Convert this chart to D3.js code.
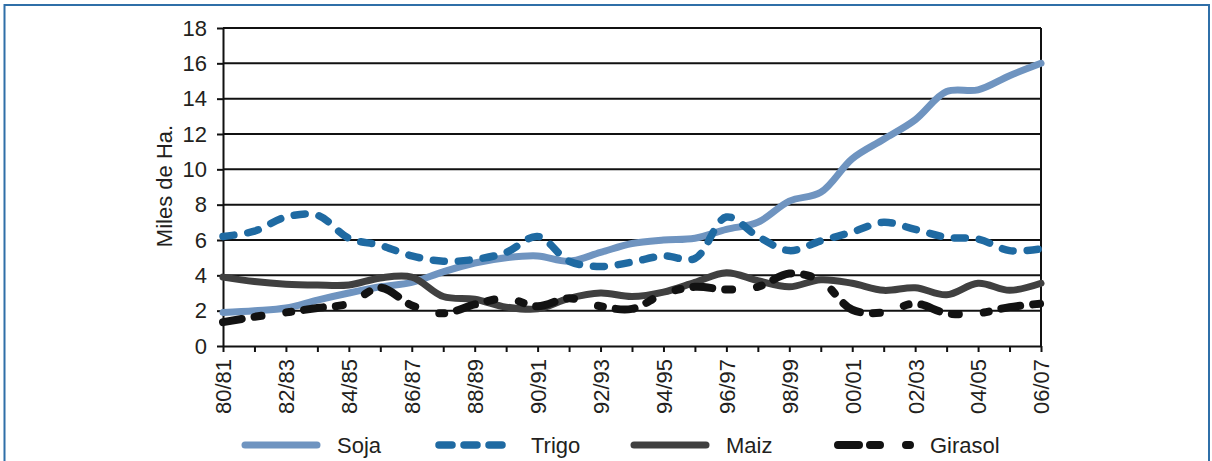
<!DOCTYPE html>
<html>
<head>
<meta charset="utf-8">
<script src="https://cdn.jsdelivr.net/npm/d3@7"></script>
<style>
  html, body { margin: 0; padding: 0; background: #ffffff; }
  svg { display: block; font-family: "Liberation Sans", Arial, sans-serif; }
</style>
</head>
<body>
<svg id="chart" width="1212" height="461"></svg>
<script>
// Campañas agrícolas (superficie sembrada, miles de ha)
const seasons = ["80/81","81/82","82/83","83/84","84/85","85/86","86/87","87/88","88/89","89/90",
  "90/91","91/92","92/93","93/94","94/95","95/96","96/97","97/98","98/99","99/00",
  "00/01","01/02","02/03","03/04","04/05","05/06","06/07"];

const soja    = [1.9, 2.0, 2.15, 2.6, 3.0, 3.35, 3.6, 4.2, 4.7, 5.0, 5.1, 4.8, 5.3, 5.8, 6.0, 6.1, 6.6, 7.0, 8.2, 8.7, 10.6, 11.7, 12.8, 14.4, 14.5, 15.3, 16.0];
const trigo   = [6.2, 6.5, 7.3, 7.4, 6.1, 5.7, 5.1, 4.8, 4.9, 5.3, 6.2, 4.8, 4.5, 4.75, 5.1, 4.95, 7.3, 6.2, 5.4, 5.95, 6.45, 7.0, 6.6, 6.15, 6.05, 5.4, 5.5];
const maiz    = [3.9, 3.65, 3.5, 3.45, 3.45, 3.85, 3.9, 2.8, 2.65, 2.2, 2.1, 2.7, 3.0, 2.8, 3.05, 3.6, 4.15, 3.7, 3.35, 3.75, 3.55, 3.15, 3.3, 2.9, 3.55, 3.15, 3.55];
const girasol = [1.35, 1.65, 1.9, 2.15, 2.4, 3.3, 2.3, 1.85, 2.35, 2.7, 2.25, 2.7, 2.25, 2.1, 2.95, 3.35, 3.2, 3.35, 4.1, 3.7, 2.05, 1.9, 2.4, 1.85, 1.85, 2.2, 2.4];

const yTicks = [0, 2, 4, 6, 8, 10, 12, 14, 16, 18];
const xTickLabels = seasons.filter((d, i) => i % 2 === 0);

const series = [
  { name: "Soja",    values: soja,    color: "#6f94c0", width: 7,   dash: null },
  { name: "Trigo",   values: trigo,   color: "#1f6aa2", width: 7.5, dash: "11,14" },
  { name: "Maiz",    values: maiz,    color: "#404040", width: 7,   dash: null },
  { name: "Girasol", values: girasol, color: "#121212", width: 8,   dash: "19,13,7,25,5,13" }
];

const svg = d3.select("#chart");

// outer frame
svg.append("rect")
  .attr("x", 4.5).attr("y", 5).attr("width", 1204.5).attr("height", 500)
  .attr("fill", "none").attr("stroke", "#2f6fa8").attr("stroke-width", 2);

const plot = { left: 223, right: 1041, top: 28, bottom: 346 };

const x = d3.scalePoint().domain(seasons).range([plot.left, plot.right]);
const y = d3.scaleLinear().domain([0, 18]).range([plot.bottom, plot.top]);

// horizontal grid lines
svg.append("g")
  .selectAll("line")
  .data(yTicks.filter(d => d > 0))
  .join("line")
  .attr("x1", plot.left).attr("x2", plot.right)
  .attr("y1", d => y(d)).attr("y2", d => y(d))
  .attr("stroke", "#111").attr("stroke-width", 2);

// right border of plot area
svg.append("line")
  .attr("x1", plot.right).attr("x2", plot.right)
  .attr("y1", plot.top).attr("y2", plot.bottom)
  .attr("stroke", "#111").attr("stroke-width", 2);

// y axis
const yAxis = svg.append("g")
  .attr("transform", `translate(${plot.left},0)`)
  .call(d3.axisLeft(y).tickValues(yTicks).tickSize(6).tickPadding(10).tickSizeOuter(0));
yAxis.select(".domain").attr("stroke", "#111").attr("stroke-width", 2);
yAxis.selectAll(".tick line").attr("stroke", "#111").attr("stroke-width", 2);
yAxis.selectAll(".tick text")
  .attr("font-size", 22).attr("fill", "#231f20")
  .attr("font-family", "Liberation Sans, Arial, sans-serif");

// x axis
const xAxis = svg.append("g")
  .attr("transform", `translate(0,${plot.bottom})`)
  .call(d3.axisBottom(x).tickSize(6).tickSizeOuter(0)
    .tickFormat(d => xTickLabels.includes(d) ? d : ""));
xAxis.select(".domain").attr("stroke", "#111").attr("stroke-width", 2);
xAxis.selectAll(".tick line").attr("stroke", "#111").attr("stroke-width", 2);
xAxis.selectAll(".tick text")
  .attr("font-size", 22).attr("fill", "#231f20")
  .attr("font-family", "Liberation Sans, Arial, sans-serif")
  .attr("transform", "rotate(-90)")
  .attr("text-anchor", "end")
  .attr("x", -13).attr("y", 0).attr("dy", "0.36em");

// y axis title
svg.append("text")
  .attr("transform", `translate(172,186) rotate(-90)`)
  .attr("text-anchor", "middle")
  .attr("font-size", 22).attr("fill", "#231f20")
  .text("Miles de Ha.");

// series lines
const line = d3.line()
  .x((d, i) => x(seasons[i]))
  .y(d => y(d))
  .curve(d3.curveCatmullRom.alpha(0.5));

svg.append("g")
  .selectAll("path")
  .data(series)
  .join("path")
  .attr("d", d => line(d.values))
  .attr("fill", "none")
  .attr("stroke", d => d.color)
  .attr("stroke-width", d => d.width)
  .attr("stroke-linecap", "round")
  .attr("stroke-linejoin", "round")
  .attr("stroke-dasharray", d => d.dash);

// legend
const legendX = [245, 439, 634, 838];
const legend = svg.append("g");
series.forEach((s, i) => {
  const g = legend.append("g").attr("transform", `translate(${legendX[i]},445)`);
  g.append("line")
    .attr("x1", 0).attr("x2", 72).attr("y1", 0).attr("y2", 0)
    .attr("stroke", s.color).attr("stroke-width", s.width)
    .attr("stroke-linecap", "round")
    .attr("stroke-dasharray", s.name === "Trigo" ? "13,12" : s.name === "Girasol" ? "21,11,10,26,6,20" : null);
  g.append("text")
    .attr("x", 92).attr("y", 0).attr("dy", "0.35em")
    .attr("font-size", 22).attr("fill", "#231f20")
    .text(s.name);
});
</script>
</body>
</html>
